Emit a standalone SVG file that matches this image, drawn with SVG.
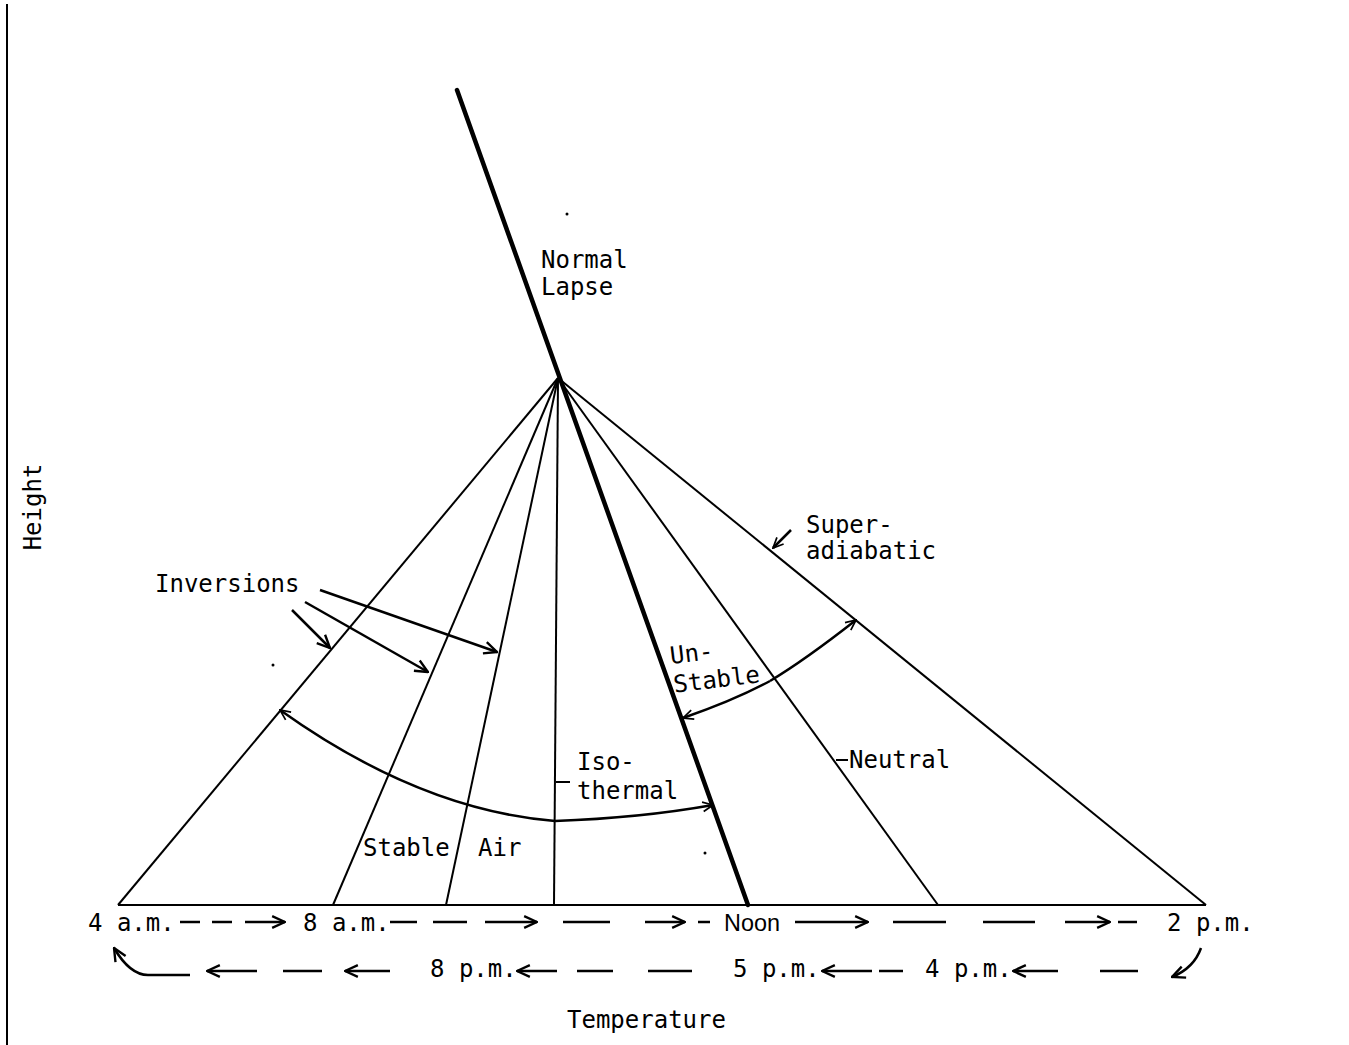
<svg xmlns="http://www.w3.org/2000/svg" width="1349" height="1045" viewBox="0 0 1349 1045">
<style>
text{font-family:"DejaVu Sans Mono","Liberation Mono",monospace;font-size:24px;fill:#000}
.sans{font-family:"Liberation Sans","DejaVu Sans",sans-serif}
.thin{stroke:#000;stroke-width:2;fill:none}
.thick{stroke:#000;stroke-width:4.5;fill:none;stroke-linecap:round}
.arr{stroke:#000;stroke-width:2.5;fill:none;marker-end:url(#ah)}
.dash{stroke:#000;stroke-width:2.5}
</style>
<defs>
<marker id="ah" viewBox="0 0 14 14" refX="13" refY="7" markerWidth="15" markerHeight="15" markerUnits="userSpaceOnUse" orient="auto">
<path d="M1,1.5 L13,7 L1,12.5" fill="none" stroke="#000" stroke-width="2.2"/>
</marker>
<marker id="ahs" viewBox="0 0 14 14" refX="13" refY="7" markerWidth="12" markerHeight="12" markerUnits="userSpaceOnUse" orient="auto">
<path d="M1,1.5 L13,7 L1,12.5" fill="none" stroke="#000" stroke-width="2"/>
</marker>
</defs>
<rect width="1349" height="1045" fill="#fff"/>
<g id="frame"><line x1="7" y1="4" x2="7" y2="1045" class="thin" stroke-width="2.5"/></g>
<g id="fan">
<line x1="118" y1="905" x2="1206" y2="905" class="thin" stroke-width="2.5"/>
<line x1="558" y1="378" x2="118" y2="905" class="thin"/>
<line x1="558" y1="378" x2="333" y2="905" class="thin"/>
<line x1="558" y1="378" x2="446" y2="905" class="thin"/>
<line x1="558" y1="378" x2="554" y2="905" class="thin"/>
<line x1="558" y1="378" x2="938" y2="905" class="thin"/>
<line x1="558" y1="378" x2="1206" y2="905" class="thin"/>
<line x1="457" y1="90" x2="748" y2="905" class="thick"/>
</g>
<g id="labels">
<text x="541" y="268">Normal</text>
<text x="541" y="295">Lapse</text>
<text x="806" y="533">Super-</text>
<text x="806" y="559">adiabatic</text>
<text x="155" y="592">Inversions</text>
<g transform="rotate(-7 672 680)"><text x="673" y="664">Un-</text><text x="673" y="693">Stable</text></g>
<text x="577" y="770">Iso-</text>
<text x="577" y="799">thermal</text>
<line x1="556" y1="782" x2="570" y2="782" class="thin"/>
<text x="849" y="768">Neutral</text>
<line x1="836" y1="760" x2="848" y2="760" class="thin"/>
<text x="363" y="856">Stable</text>
<text x="478" y="856">Air</text>
<text transform="translate(41 507) rotate(-90)" text-anchor="middle">Height</text>
<text x="567" y="1028">Temperature</text>
</g>
<g id="times">
<text x="88" y="931">4 a.m.</text>
<text x="303" y="931">8 a.m.</text>
<text x="724" y="931" class="sans" textLength="56" lengthAdjust="spacingAndGlyphs">Noon</text>
<text x="1167" y="931">2 p.m.</text>
<text x="430" y="977">8 p.m.</text>
<text x="733" y="977">5 p.m.</text>
<text x="925" y="977">4 p.m.</text>
</g>
<g id="connectors">
<line x1="292" y1="610" x2="330" y2="648" class="arr"/>
<line x1="305" y1="602" x2="428" y2="672" class="arr"/>
<line x1="320" y1="590" x2="497" y2="652" class="arr"/>
<line x1="791" y1="530" x2="773" y2="548" class="arr" style="marker-end:url(#ahs)"/>
<path d="M770,681 Q735,700 683,718" class="arr" style="marker-end:url(#ahs)"/>
<path d="M770,681 Q805,660 856,620" class="arr" style="marker-end:url(#ahs)"/>
<path d="M555,821 Q420,810 280,710" class="arr" style="marker-end:url(#ahs)"/>
<path d="M555,821 Q640,818 713,805" class="arr" style="marker-end:url(#ahs)"/>
<g id="row1">
<line x1="180" y1="922" x2="200" y2="922" class="dash"/>
<line x1="212" y1="922" x2="232" y2="922" class="dash"/>
<line x1="245" y1="922" x2="285" y2="922" class="arr"/>
<line x1="390" y1="922" x2="417" y2="922" class="dash"/>
<line x1="433" y1="922" x2="467" y2="922" class="dash"/>
<line x1="485" y1="922" x2="537" y2="922" class="arr"/>
<line x1="563" y1="922" x2="610" y2="922" class="dash"/>
<line x1="645" y1="922" x2="685" y2="922" class="arr"/>
<line x1="698" y1="922" x2="710" y2="922" class="dash"/>
<line x1="795" y1="922" x2="868" y2="922" class="arr"/>
<line x1="893" y1="922" x2="946" y2="922" class="dash"/>
<line x1="983" y1="922" x2="1035" y2="922" class="dash"/>
<line x1="1065" y1="922" x2="1110" y2="922" class="arr"/>
<line x1="1118" y1="922" x2="1137" y2="922" class="dash"/>
</g>
<g id="row2">
<path d="M190,975 L148,975 Q130,975 114,948" class="arr"/>
<line x1="257" y1="971" x2="207" y2="971" class="arr"/>
<line x1="283" y1="971" x2="322" y2="971" class="dash"/>
<line x1="390" y1="971" x2="345" y2="971" class="arr"/>
<line x1="557" y1="971" x2="517" y2="971" class="arr"/>
<line x1="577" y1="971" x2="613" y2="971" class="dash"/>
<line x1="648" y1="971" x2="692" y2="971" class="dash"/>
<line x1="872" y1="971" x2="822" y2="971" class="arr"/>
<line x1="879" y1="971" x2="903" y2="971" class="dash"/>
<line x1="1058" y1="971" x2="1013" y2="971" class="arr"/>
<line x1="1100" y1="971" x2="1138" y2="971" class="dash"/>
<path d="M1201,948 Q1194,968 1172,977" class="arr"/>
</g>
</g>
<g id="specks" fill="#000">
<circle cx="567" cy="214" r="1.5"/>
<circle cx="273" cy="665" r="1.5"/>
<circle cx="705" cy="853" r="1.5"/>
</g>
</svg>
